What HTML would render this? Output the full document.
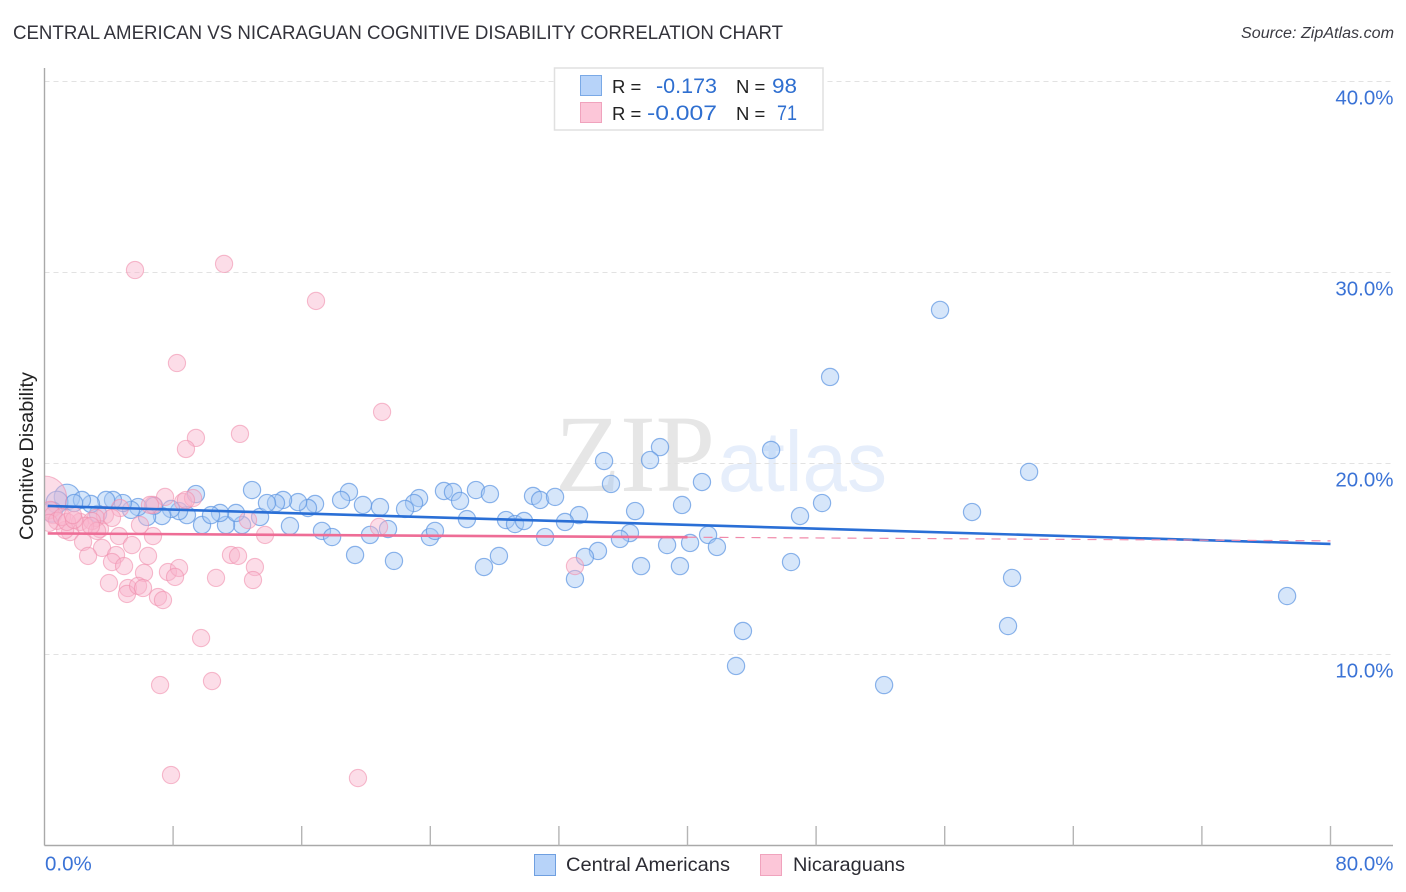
<!DOCTYPE html>
<html lang="en">
<head>
<meta charset="utf-8">
<title>Central American vs Nicaraguan Cognitive Disability Correlation Chart</title>
<style>
html,body{margin:0;padding:0;background:#fff;width:1406px;height:892px;overflow:hidden}
svg{display:block;font-family:"Liberation Sans",sans-serif}
</style>
</head>
<body>
<svg id="chart" xmlns="http://www.w3.org/2000/svg" width="1406" height="892" viewBox="0 0 1406 892">
  <defs><clipPath id="plot-clip"><rect x="45" y="68" width="1350" height="778"/></clipPath></defs>
  <text x="555" y="491" font-family="'Liberation Serif',serif" font-size="110" fill="#e6e6e6" textLength="160" lengthAdjust="spacingAndGlyphs">ZIP</text>
  <text x="718" y="491" font-size="85" fill="#e6eefb" textLength="169" lengthAdjust="spacingAndGlyphs">atlas</text>
  <g id="grid"></g>
  <g id="blue-points" clip-path="url(#plot-clip)"></g>
  <g id="pink-points" clip-path="url(#plot-clip)"></g>
  <g id="trends"></g>
  <g id="axes"></g>

  <text x="13" y="39" font-size="19" fill="#33333b" textLength="770" lengthAdjust="spacingAndGlyphs">CENTRAL AMERICAN VS NICARAGUAN COGNITIVE DISABILITY CORRELATION CHART</text>
  <text x="1241" y="38" font-size="15.5" font-style="italic" fill="#3a3a42" textLength="153" lengthAdjust="spacingAndGlyphs">Source: ZipAtlas.com</text>
  <text transform="translate(33,540) rotate(-90)" font-size="19" fill="#222" textLength="168" lengthAdjust="spacingAndGlyphs">Cognitive Disability</text>

  <g>
    <rect x="554.5" y="68" width="268.5" height="62" fill="#fff" stroke="#e0e0e0" stroke-width="1.5"/>
    <rect x="580.5" y="75.5" width="21" height="20" fill="#b7d3f9" stroke="#7aa9e6" stroke-width="1"/>
    <rect x="580.5" y="102.5" width="21" height="20" fill="#fcc6d8" stroke="#f0a3bd" stroke-width="1"/>
    <text x="612" y="93" font-size="18.5" fill="#222">R =</text>
    <text x="656" y="93" font-size="21" fill="#2f6fd0" textLength="61" lengthAdjust="spacingAndGlyphs">-0.173</text>
    <text x="736" y="93" font-size="18.5" fill="#222">N =</text>
    <text x="772" y="93" font-size="21" fill="#2f6fd0" textLength="25" lengthAdjust="spacingAndGlyphs">98</text>
    <text x="612" y="120" font-size="18.5" fill="#222">R =</text>
    <text x="647" y="120" font-size="21" fill="#2f6fd0" textLength="70" lengthAdjust="spacingAndGlyphs">-0.007</text>
    <text x="736" y="120" font-size="18.5" fill="#222">N =</text>
    <text x="777" y="120" font-size="21" fill="#2f6fd0" textLength="20" lengthAdjust="spacingAndGlyphs">71</text>
  </g>

  <g>
    <g>
      <rect x="534.5" y="854.5" width="21" height="21" fill="#b7d3f9" stroke="#6f9fe0" stroke-width="1"/>
      <text x="566" y="871" font-size="19.5" fill="#2b2b33" textLength="164" lengthAdjust="spacingAndGlyphs">Central Americans</text>
    </g>
    <g>
      <rect x="760.5" y="854.5" width="21" height="21" fill="#fcc6d8" stroke="#f0a3bd" stroke-width="1"/>
      <text x="793" y="871" font-size="19.5" fill="#2b2b33" textLength="112" lengthAdjust="spacingAndGlyphs">Nicaraguans</text>
    </g>
  </g>
</svg>
<script>
var blueX = [1.40,0.78,0.47,55.71,48.87,45.20,38.29,37.67,34.81,61.25,40.90,35.24,12.91,9.42,18.94,24.85,25.41,26.84,27.71,25.85,23.30,22.99,22.43,30.39,30.83,31.76,39.66,48.37,47.00,57.70,36.74,33.25,32.38,26.28,28.71,29.27,29.83,31.14,23.98,24.29,21.37,20.25,17.26,17.89,15.27,12.29,13.41,11.29,9.80,41.28,36.42,35.80,34.43,33.62,38.73,40.16,41.83,28.27,27.34,21.74,19.32,37.11,39.53,33.00,46.44,60.19,77.30,59.94,43.45,43.02,52.23,19.81,20.87,18.45,16.83,16.39,15.77,14.84,14.40,13.84,11.91,10.92,10.36,8.86,8.37,7.87,7.31,6.81,6.38,5.82,5.38,4.88,4.26,3.83,3.33,2.89,2.33,1.84];
var blueY = [18.25,17.98,17.46,28.04,24.53,20.71,20.86,20.18,20.13,19.56,19.03,18.93,18.61,18.40,18.51,18.56,18.51,18.61,18.40,18.04,18.19,17.93,17.62,18.30,18.09,18.25,17.83,17.93,17.25,17.46,17.51,17.30,16.94,17.09,17.04,16.83,16.99,16.15,16.15,16.47,16.57,16.26,16.47,16.15,16.73,16.78,17.20,16.78,16.78,16.26,16.36,16.05,15.42,15.11,15.73,15.84,15.63,15.16,14.58,14.90,15.21,14.63,14.63,13.95,14.84,14.01,13.06,11.49,11.23,9.40,8.40,17.83,17.72,18.09,17.88,17.67,17.98,18.09,17.93,17.93,17.41,17.41,17.30,17.30,17.51,17.62,17.25,17.78,17.20,17.72,17.57,17.93,18.09,18.09,17.36,17.88,18.09,17.93];
var blueWeights = [2.2,1.6,1.4];
var pinkX = [0.02,5.63,11.17,16.89,8.24,21.00,12.16,9.42,8.80,7.50,6.75,8.62,9.24,4.70,3.76,5.94,6.75,4.63,3.45,2.21,1.59,1.28,2.40,3.58,5.44,6.44,2.71,4.45,4.20,4.95,6.19,4.01,5.19,5.13,5.82,6.13,7.06,7.37,7.68,8.37,8.12,11.60,12.04,10.67,13.09,12.97,13.72,12.66,9.74,7.19,10.42,7.87,19.50,20.81,33.00,3.20,2.95,2.52,0.34,0.53,0.78,0.28,1.09,1.40,1.84,3.27,2.89,4.20,6.56,8.80,1.77];
var pinkY = [18.20,30.13,30.45,28.51,25.26,22.70,21.55,21.34,20.76,18.25,17.83,17.98,18.19,17.67,17.30,16.78,16.20,16.20,16.57,16.94,16.41,16.52,15.89,15.58,15.73,15.16,15.16,15.21,14.84,14.63,14.27,13.74,13.48,13.17,13.59,13.48,13.01,12.85,14.32,14.53,14.06,15.21,15.16,14.01,14.58,13.90,16.26,17.04,10.86,8.40,8.61,3.69,3.53,16.68,14.63,17.15,16.99,16.73,17.57,17.30,17.00,16.89,17.20,16.94,17.05,16.47,16.73,17.15,17.83,18.09,17.30];
var pinkWeights = [6.4,1,1,1];
var xTickValues = [0,8,16,24,32,40,48,56,64,72,80];
var xTickLabels = ["0.0%","80.0%"];
var yTickValues = [10,20,30,40];
var yTickLabels = ["10.0%","20.0%","30.0%","40.0%"];
var blueTrendX = [0.2,80];
var blueTrendY = [17.78,15.79];
var pinkTrendX = [0.2,40,80];
var pinkTrendY = [16.34,16.14,15.95];

function xS(v){return 44.5+v*16.075;}
function yS(v){return 654.5-(v-10)*19.1;}
function mk(parent,tag,attrs){
  var el=document.createElementNS('http://www.w3.org/2000/svg',tag);
  for(var k in attrs){el.setAttribute(k,attrs[k]);}
  parent.appendChild(el);
  return el;
}
var LEFT=44.5,RIGHT=1393,BOTTOM=845.5,TOP=68;
var LABEL_SIZE=20.5;
var grid=document.getElementById('grid');
var axes=document.getElementById('axes');
yTickValues.forEach(function(v,i){
  var g=mk(grid,'line',{x1:LEFT,x2:RIGHT,y1:yS(v),y2:yS(v),stroke:'#e2e2e2','stroke-width':1,'stroke-dasharray':'5 4'});
  
  
  var t=mk(axes,'text',{x:RIGHT+0.5,y:yS(v)+23,'font-size':LABEL_SIZE,fill:'#3b73d6','text-anchor':'end'});
  t.textContent=yTickLabels[i];
  
  
});
var ax=mk(axes,'line',{x1:LEFT,x2:LEFT,y1:TOP,y2:BOTTOM,stroke:'#a9a9a9','stroke-width':1.4});


var ay=mk(axes,'line',{x1:LEFT,x2:RIGHT,y1:BOTTOM,y2:BOTTOM,stroke:'#a9a9a9','stroke-width':1.4});


xTickValues.forEach(function(v){
  if(v===0){return;}
  var tk=mk(axes,'line',{x1:xS(v),x2:xS(v),y1:826,y2:BOTTOM,stroke:'#b5b5b5','stroke-width':1.4});
  
  
});
var xl0=mk(axes,'text',{x:xS(xTickValues[0])+0.5,y:870.5,'font-size':LABEL_SIZE,fill:'#3b73d6'});
xl0.textContent=xTickLabels[0];


var xl1=mk(axes,'text',{x:RIGHT+0.5,y:870.5,'font-size':LABEL_SIZE,fill:'#3b73d6','text-anchor':'end'});
xl1.textContent=xTickLabels[1];



var BASE_R=8.6;
function radius(w,i){var k=w[i]===undefined?1:w[i];return BASE_R*Math.sqrt(k);}
var blueG=document.getElementById('blue-points');
blueX.forEach(function(x,i){
  var c=mk(blueG,'circle',{cx:xS(x),cy:yS(blueY[i]),r:radius(blueWeights,i),fill:'#a6c8f4','fill-opacity':0.46,stroke:'#5f97e2','stroke-opacity':0.72,'stroke-width':1.2});
  
  
});
var pinkG=document.getElementById('pink-points');
pinkX.forEach(function(x,i){
  var c=mk(pinkG,'circle',{cx:xS(x),cy:yS(pinkY[i]),r:radius(pinkWeights,i),fill:'#f9b4cb','fill-opacity':0.45,stroke:'#f08fae','stroke-opacity':0.6,'stroke-width':1.1});
  
  
});
var trends=document.getElementById('trends');
var tb=mk(trends,'line',{x1:xS(blueTrendX[0]),y1:yS(blueTrendY[0]),x2:xS(blueTrendX[1]),y2:yS(blueTrendY[1]),stroke:'#2a6fd6','stroke-width':2.6});


var tp=mk(trends,'line',{x1:xS(pinkTrendX[0]),y1:yS(pinkTrendY[0]),x2:xS(pinkTrendX[1]),y2:yS(pinkTrendY[1]),stroke:'#ee6d96','stroke-width':2.6});


var td=mk(trends,'line',{x1:xS(pinkTrendX[1]),y1:yS(pinkTrendY[1]),x2:xS(pinkTrendX[2]),y2:yS(pinkTrendY[2]),stroke:'#f08aaa','stroke-width':1.2,'stroke-dasharray':'9 7'});


</script>
</body>
</html>
